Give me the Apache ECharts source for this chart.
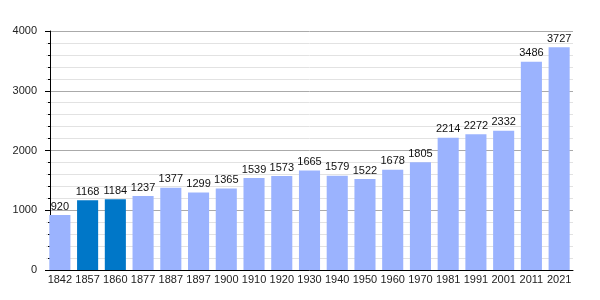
<!DOCTYPE html>
<html><head><meta charset="utf-8">
<script src="https://cdn.jsdelivr.net/npm/echarts@6/dist/echarts.min.js"></script>
<style>html,body{margin:0;padding:0;background:#fff}#c{width:600px;height:300px}</style>
</head><body><div id="c"></div>
<script>
const years = ['1842','1857','1860','1877','1887','1897','1900','1910','1920','1930','1940','1950','1960','1970','1981','1991','2001','2011','2021'];
const population = [920,1168,1184,1237,1377,1299,1365,1539,1573,1665,1579,1522,1678,1805,2214,2272,2332,3486,3727];
const highlighted = ['1857','1860'];
const yTicks = [0,1000,2000,3000,4000];

const light = '#9bb3fe', dark = '#0077c8';
const font = 'Liberation Sans, Arial, sans-serif';
const chart = echarts.init(document.getElementById('c'));
chart.setOption({
  animation:false,
  grid:{left:46,right:27,top:31,bottom:30},
  xAxis:{type:'category',data:years,
    axisLine:{lineStyle:{color:'#000',width:1}},
    axisTick:{show:false},
    axisLabel:{color:'#222',fontFamily:font,fontSize:11,margin:4,interval:0}},
  yAxis:{type:'value',min:yTicks[0],max:yTicks[yTicks.length-1],interval:1000,offset:-4,
    axisLine:{show:true,lineStyle:{color:'#000'}},
    axisTick:{show:true,length:5,lineStyle:{color:'#000'}},
    minorTick:{show:true,splitNumber:5,length:2,lineStyle:{color:'#000'}},
    splitLine:{lineStyle:{color:'#aaa'}},
    minorSplitLine:{show:true,lineStyle:{color:'#e2e2e2'}},
    axisLabel:{color:'#222',fontFamily:font,fontSize:11,margin:13,formatter:v=>String(v)}},
  series:[{type:'bar',barCategoryGap:'24%',
    data:population.map((v,i)=>({value:v,itemStyle:{color:highlighted.includes(years[i])?dark:light}})),
    label:{show:true,position:'top',distance:3,color:'#111',fontFamily:font,fontSize:11}}]
});
</script></body></html>
